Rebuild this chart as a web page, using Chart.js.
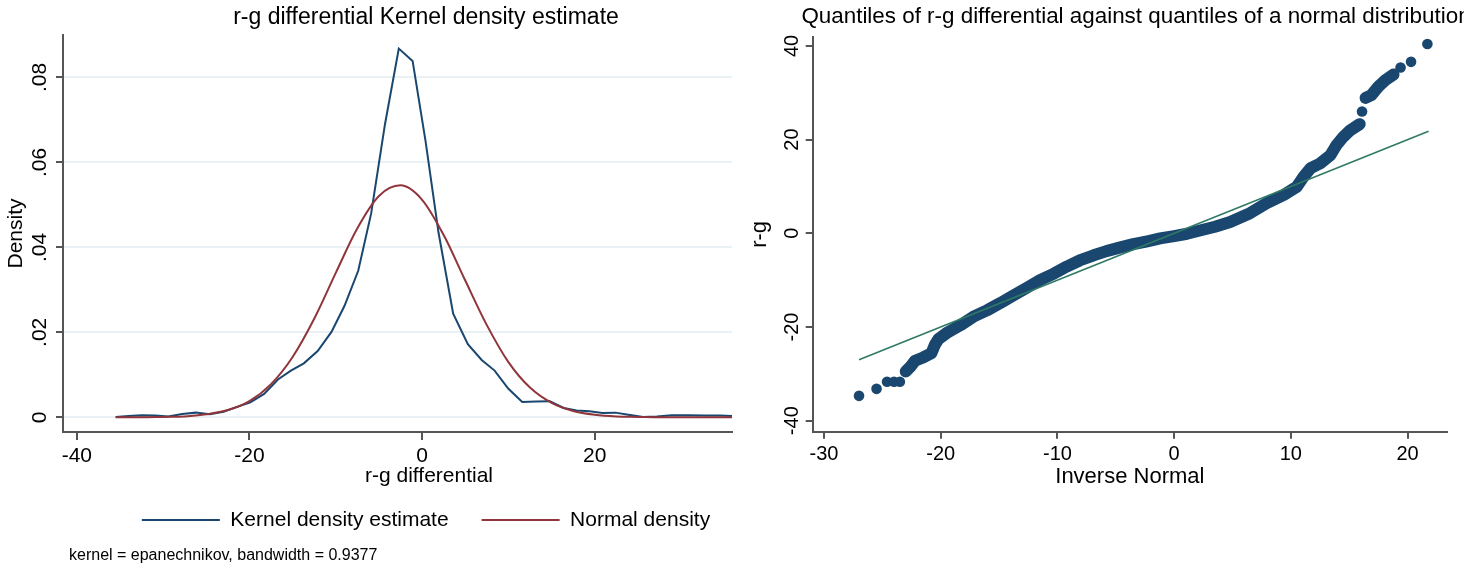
<!DOCTYPE html>
<html>
<head>
<meta charset="utf-8">
<script src="https://cdn.jsdelivr.net/npm/chart.js@4.4.0/dist/chart.umd.min.js"></script>
<style>
  html, body { margin: 0; padding: 0; background: #fff; overflow: hidden; }
  #wrap { position: relative; width: 1464px; height: 569px; }
  #kdeBox { position: absolute; left: 0; top: 0; width: 852px; height: 569px; }
  #qqBox { position: absolute; left: 740px; top: 0; width: 724px; height: 569px; }
</style>
</head>
<body>
<div id="wrap">
  <div id="kdeBox"><canvas id="kdeChart"></canvas></div>
  <div id="qqBox"><canvas id="qqChart"></canvas></div>
</div>
<script>
// kernel density of the r-g differential
const kdeX = [-35.5, -34.0, -32.5, -30.9, -29.4, -27.8, -26.2, -24.6, -23.0, -21.5, -19.9, -18.3, -16.7, -15.2, -13.7, -12.1,
  -10.5, -9.0, -7.4, -5.9, -4.3, -2.7, -1.1, 0.4, 1.9, 3.6, 5.3, 6.9, 8.4, 10.0, 11.6, 13.2, 14.8, 16.4, 17.9, 19.4,
  20.9, 22.4, 23.9, 25.6, 27.2, 28.9, 30.9, 32.8, 34.5, 36.1];
const kdeY = [0.0001, 0.0003, 0.0005, 0.0004, 0.0002, 0.0008, 0.0011, 0.0007, 0.0013, 0.0024, 0.0035, 0.0055, 0.0089, 0.0110, 0.0127, 0.0156,
  0.0201, 0.0262, 0.0345, 0.0480, 0.0690, 0.0868, 0.0839, 0.0650, 0.0435, 0.0244, 0.0172, 0.0135, 0.0110, 0.0067, 0.0036, 0.0037, 0.0038, 0.0022, 0.0016, 0.0014,
  0.0010, 0.0011, 0.0006, 0.0001, 0.0002, 0.0005, 0.0005, 0.0004, 0.0004, 0.0003];

// normal density overlay
const normX = [-35.5, -32.5, -30, -27.5, -25, -22.5, -20, -17.5, -15, -12.5, -10, -7.5, -5, -2.5, 0, 2.5, 5, 7.5, 10, 12.5, 15, 17.5, 20, 22.5, 25, 27.5, 30, 33, 36];
const normY = [0, 0, 0.0001, 0.0002, 0.0007, 0.0017, 0.0038, 0.0078, 0.0142, 0.0232, 0.0340, 0.0445, 0.0521, 0.0546, 0.0512, 0.0429, 0.0322, 0.0217, 0.0130, 0.0070, 0.0034, 0.0015, 0.0006, 0.0002, 0.0001, 0, 0, 0, 0];

const densityTicks = [0, 0.02, 0.04, 0.06, 0.08];
const densityTickLabels = ['0', '.02', '.04', '.06', '.08'];
const diffTicks = [-40, -20, 0, 20];

// quantiles of r-g against inverse normal: the packed run of points (null = break)
const qqBandX = [-23.0, -22.6, -22.2, -21.5, -20.8, -20.5, -20.2, -19.5, -18.3, -17.2, -16.0, -14.9, -13.8, -12.6, -11.5,
  -10.3, -9.2, -8.1, -6.9, -5.8, -4.6, -3.5, -2.3, -1.2, 0.0, 1.1, 2.2, 3.5, 4.8, 6.5, 7.9, 9.4, 10.5, 11.1, 11.7,
  12.5, 13.4, 13.9, 14.5, 15.1, 15.9, 16.2, 16.4, 16.9, 17.5, 18.1, 18.8];
const qqBandY = [-29.5, -28.5, -27.2, -26.5, -25.6, -23.8, -22.6, -21.3, -19.6, -17.8, -16.4, -14.9, -13.3, -11.6, -10.0,
  -8.6, -7.1, -5.8, -4.7, -3.8, -3.0, -2.3, -1.7, -1.1, -0.6, -0.1, 0.6, 1.4, 2.4, 4.3, 6.4, 8.2, 9.9, 12.1, 13.9,
  14.9, 16.7, 18.8, 20.6, 22.0, 23.3, null, 28.9, 29.5, 31.3, 32.7, 33.9];
// isolated points in the tails
const qqTailX = [-27.0, -25.5, -24.6, -24.0, -23.5, 16.1, 19.4, 20.3, 21.7];
const qqTailY = [-34.7, -33.2, -31.7, -31.7, -31.7, 26.0, 35.4, 36.6, 40.4];
const refLineX = [-27.0, 21.8];
const refLineY = [-27.0, 21.8];

const invNormTicks = [-30, -20, -10, 0, 10, 20];
const rgTicks = [-40, -20, 0, 20, 40];

const FONT = "'Liberation Sans', Arial, sans-serif";
Chart.defaults.font.family = FONT;
Chart.defaults.color = '#000';

const pts = (xs, ys) => xs.map((x, i) => ({ x: x, y: ys[i] }));
const setTicks = vals => s => { s.ticks = vals.map(v => ({ value: v })); };

// rotated y tick labels + free text (titles, notes)
const stataText = {
  id: 'stataText',
  afterDraw(chart, args, opts) {
    const ctx = chart.ctx;
    const ys = chart.scales.y;
    ctx.save();
    ctx.fillStyle = '#000';
    ctx.textAlign = 'center';
    ctx.textBaseline = 'middle';
    ctx.font = opts.tickFont;
    ys.ticks.forEach((t, i) => {
      ctx.save();
      ctx.translate(opts.tickX, ys.getPixelForValue(t.value));
      ctx.rotate(-Math.PI / 2);
      ctx.fillText(opts.tickLabels[i], 0, 0);
      ctx.restore();
    });
    opts.items.forEach(it => {
      ctx.font = it.font;
      ctx.textAlign = it.align || 'center';
      ctx.fillText(it.text, it.x, it.y);
    });
    ctx.restore();
  }
};

const axisLine = { color: '#555', width: 2 };
const navy = '#1a476f';

new Chart(document.getElementById('kdeChart'), {
  type: 'line',
  data: {
    datasets: [
      { label: 'Kernel density estimate', data: pts(kdeX, kdeY), borderColor: navy, backgroundColor: navy,
        borderWidth: 2, pointRadius: 0, tension: 0, order: 1 },
      { label: 'Normal density', data: pts(normX, normY), borderColor: '#90353b', backgroundColor: '#90353b',
        borderWidth: 2, pointRadius: 0, cubicInterpolationMode: 'monotone', order: 0 }
    ]
  },
  options: {
    responsive: true,
    maintainAspectRatio: false,
    animation: false,
    layout: { padding: { top: 0, left: 0, right: 0, bottom: 28.5 } },
    scales: {
      x: {
        type: 'linear', min: -41.6, max: 35.9,
        afterBuildTicks: setTicks(diffTicks),
        afterFit: s => { s.height = 44.5; },
        grid: { drawOnChartArea: false, tickLength: 8, tickColor: '#555', lineWidth: 2 },
        border: axisLine,
        ticks: { font: { size: 21 }, padding: 3.5, maxRotation: 0 }
      },
      y: {
        min: -0.00346, max: 0.09,
        afterBuildTicks: setTicks(densityTicks),
        afterFit: s => { s.width = 63; },
        grid: { color: '#eaf1f4', lineWidth: 2, tickColor: '#555', tickLength: 7 },
        border: axisLine,
        ticks: { display: false },
        title: { display: true, text: 'Density', font: { size: 21 }, padding: { top: 4, bottom: 0 } }
      },
      yPad: {
        position: 'right', display: true,
        afterFit: s => { s.width = 120; },
        grid: { display: false }, ticks: { display: false }, border: { display: false }
      }
    },
    plugins: {
      title: { display: true, text: 'r-g differential Kernel density estimate', font: { size: 23, weight: 'normal' },
        padding: { top: 4, bottom: 3.4 } },
      legend: {
        position: 'bottom',
        labels: {
          boxWidth: 78, boxHeight: 2, padding: 33, font: { size: 21 },
          sort: (a, b) => a.datasetIndex - b.datasetIndex,
          generateLabels: chart => Chart.defaults.plugins.legend.labels.generateLabels(chart)
            .map(l => Object.assign(l, { lineWidth: 0 }))
        }
      },
      tooltip: { enabled: false },
      stataText: {
        tickX: 40, tickFont: '21px ' + FONT, tickLabels: densityTickLabels,
        items: [
          { text: 'r-g differential', x: 429, y: 476, font: '21px ' + FONT },
          { text: 'kernel = epanechnikov, bandwidth = 0.9377', x: 69, y: 556, align: 'left', font: '16px ' + FONT }
        ]
      }
    }
  },
  plugins: [stataText]
});

new Chart(document.getElementById('qqChart'), {
  type: 'scatter',
  data: {
    datasets: [
      { label: 'Reference', data: pts(refLineX, refLineY), showLine: true, borderColor: '#2f7a64',
        borderWidth: 1.6, pointRadius: 0, order: 0 },
      { label: 'r-g', data: pts(qqBandX, qqBandY), showLine: true, spanGaps: false, borderColor: navy, backgroundColor: navy,
        borderWidth: 12, borderCapStyle: 'round', borderJoinStyle: 'round', pointRadius: 5.3, pointBorderWidth: 0, order: 1 },
      { label: 'r-g tails', data: pts(qqTailX, qqTailY), backgroundColor: navy,
        pointRadius: 5.3, pointBorderWidth: 0, order: 2 }
    ]
  },
  options: {
    responsive: true,
    maintainAspectRatio: false,
    animation: false,
    layout: { padding: { top: 37, left: 0, right: 17, bottom: 0 } },
    scales: {
      x: {
        type: 'linear', min: -30.97, max: 23.38,
        afterBuildTicks: setTicks(invNormTicks),
        afterFit: s => { s.height = 137.3; },
        grid: { drawOnChartArea: false, tickLength: 7, tickColor: '#555', lineWidth: 2 },
        border: axisLine,
        ticks: { font: { size: 20 }, padding: 4, maxRotation: 0 },
        title: { display: true, text: 'Inverse Normal', font: { size: 22 }, padding: { top: 0, bottom: 78.8 } }
      },
      y: {
        min: -42.35, max: 41.9,
        afterBuildTicks: setTicks(rgTicks),
        afterFit: s => { s.width = 72.7; },
        grid: { drawOnChartArea: false, tickLength: 7, tickColor: '#555', lineWidth: 2 },
        border: axisLine,
        ticks: { display: false },
        title: { display: true, text: 'r-g', font: { size: 22 }, padding: { top: 7, bottom: 0 } }
      }
    },
    plugins: {
      legend: { display: false },
      tooltip: { enabled: false },
      stataText: {
        tickX: 52, tickFont: '20px ' + FONT, tickLabels: rgTicks.map(String),
        items: [
          { text: 'Quantiles of r-g differential against quantiles of a normal distribution', x: 396, y: 17, font: '22.4px ' + FONT }
        ]
      }
    }
  },
  plugins: [stataText]
});
</script>
</body>
</html>
